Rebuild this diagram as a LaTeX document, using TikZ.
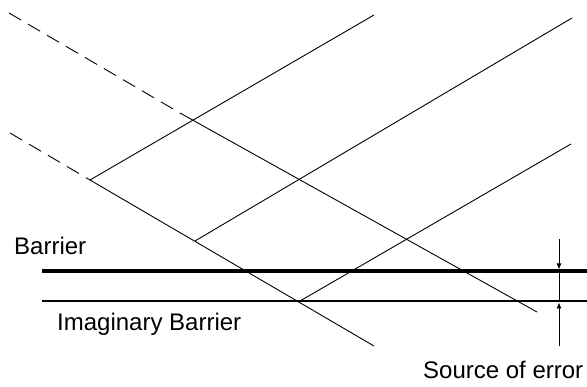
\documentclass[tikz,border=0pt]{standalone}
\usepackage{fontspec}
\setmainfont{Liberation Sans}
\usetikzlibrary{arrows.meta}
\begin{document}
\begin{tikzpicture}[x=1pt,y=-1pt,
  ray/.style={line width=0.9pt},
  dashray/.style={line width=0.9pt,dash pattern=on 14pt off 8pt},
  barrierline/.style={line width=3.4pt},
  imagline/.style={line width=2.2pt},
  dimline/.style={line width=0.9pt,-{Latex[length=6pt,width=5pt]}},
  plainline/.style={line width=0.9pt},
  lbl/.style={anchor=base west,inner sep=0pt,font=\fontsize{24}{28}\selectfont}]
\useasboundingbox (0,0) rectangle (587,387);
% key points
\coordinate (a0) at (9,13);
\coordinate (a1) at (180,113);
\coordinate (a2) at (537,312);
\coordinate (b0) at (10,133);
\coordinate (p1) at (90,180);
\coordinate (p2) at (195,241);
\coordinate (p3) at (300,301);
\coordinate (b2) at (374,346);
\coordinate (e1) at (374,15);
\coordinate (e2) at (572,18);
\coordinate (e3) at (571,144);
\coordinate (bl) at (42,271);
\coordinate (br) at (587,271);
\coordinate (il) at (42,301);
\coordinate (ir) at (587,301);
\coordinate (dtop) at (559,239);
\coordinate (dbar) at (559,269.5);
\coordinate (dimg) at (559,302.5);
\coordinate (dbot) at (559,346);
% down-right rays
\draw[dashray] (a0) -- (a1);
\draw[ray] (a1) -- (a2);
\draw[dashray] (b0) -- (p1);
\draw[ray] (p1) -- (b2);
% up-right rays
\draw[ray] (p1) -- (e1);
\draw[ray] (p2) -- (e2);
\draw[ray] (p3) -- (e3);
% barriers
\draw[barrierline] (bl) -- (br);
\draw[imagline] (il) -- (ir);
% dimension
\draw[plainline] (dbar) -- (dimg);
\draw[dimline] (dtop) -- (dbar);
\draw[dimline] (dbot) -- (dimg);
% labels
\node[lbl] (barrier) at (14,255) {Barrier};
\node[lbl] (imag) at (57,331) {Imaginary Barrier};
\node[lbl] (src) at (423,379) {Source of error};
\end{tikzpicture}
\end{document}
